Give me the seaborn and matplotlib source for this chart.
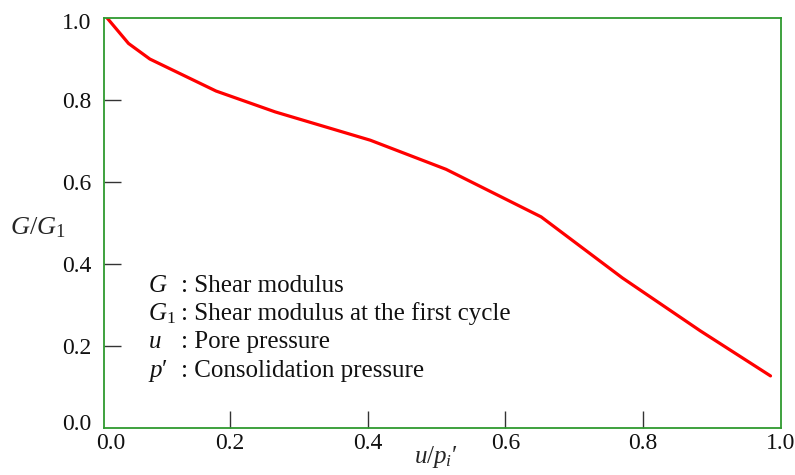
import matplotlib
matplotlib.use("Agg")
import matplotlib.pyplot as plt
import matplotlib.transforms as mtransforms
import seaborn as sns
import pandas as pd

# Degradation of shear modulus with pore pressure build-up
pore_ratio = [0.022, 0.053, 0.084, 0.180, 0.266, 0.404, 0.514, 0.652, 0.770, 0.883, 0.985]
modulus_ratio = [1.000, 0.938, 0.900, 0.822, 0.771, 0.702, 0.631, 0.515, 0.366, 0.237, 0.127]

x_ticks = [0.0167, 0.2, 0.4, 0.6, 0.8, 1.0]
x_tick_labels = ["0.0", "0.2", "0.4", "0.6", "0.8", "1.0"]
y_ticks = [0.0, 0.2, 0.4, 0.6, 0.8, 1.0]
y_tick_labels = ["0.0", "0.2", "0.4", "0.6", "0.8", "1.0"]

symbols = ["$G$", "$G_1$", "$u$", "$p$\u2032"]
meanings = [": Shear modulus", ": Shear modulus at the first cycle",
            ": Pore pressure", ": Consolidation pressure"]

sns.set_theme(style="white")
plt.rcParams["font.family"] = ["Liberation Serif", "DejaVu Serif"]
plt.rcParams["mathtext.fontset"] = "custom"
plt.rcParams["mathtext.rm"] = "Liberation Serif"
plt.rcParams["mathtext.it"] = "Liberation Serif:italic"

df = pd.DataFrame({"ratio": pore_ratio, "G": modulus_ratio})

fig = plt.figure(figsize=(7.95, 4.75), dpi=100)
ax = fig.add_axes([0.1302, 0.099, 0.852, 0.863])

sns.lineplot(data=df, x="ratio", y="G", ax=ax, color="#ff0000",
             linewidth=2.3, sort=False)

ax.set_xlim(x_ticks[0], 1.0)
ax.set_ylim(0.0, 1.0)

for side in ["left", "right", "top", "bottom"]:
    ax.spines[side].set_visible(True)
    ax.spines[side].set_color("#2f9a2f")
    ax.spines[side].set_linewidth(1.3)

ax.set_xticks(x_ticks)
ax.set_xticklabels(x_tick_labels)
ax.set_yticks(y_ticks)
ax.set_yticklabels(y_tick_labels)
ax.tick_params(axis="both", which="major", direction="in", length=12,
               width=1.0, color="#333333", labelsize=17, labelcolor="#111111",
               bottom=True, left=True)
ax.tick_params(axis="x", pad=3.5)
ax.tick_params(axis="y", pad=9)

# the end ticks sit on the frame, so hide their marks
xt = ax.xaxis.get_major_ticks()
yt = ax.yaxis.get_major_ticks()
for t in (xt[0], xt[-1], yt[0], yt[-1]):
    t.tick1line.set_visible(False)

# nudge the corner labels slightly off the frame corners
def nudge(label, dx_px, dy_px):
    off = mtransforms.ScaledTranslation(dx_px / 100, dy_px / 100, fig.dpi_scale_trans)
    label.set_transform(label.get_transform() + off)

fig.canvas.draw()
nudge(xt[0].label1, 7, 0)
nudge(yt[0].label1, 0, 6)
nudge(yt[-1].label1, 0, -3)

ax.set_xlabel("$u/p_i$\u2032", fontsize=18)
ax.xaxis.set_label_coords(0.49, -0.040)
ax.set_ylabel(r"$G/G_1$", fontsize=19, rotation=0, va="center", ha="center")
ax.yaxis.set_label_coords(-0.097, 0.488)

ys = [0.332, 0.263, 0.195, 0.124]
for sym, txt, yy in zip(symbols, meanings, ys):
    ax.text(0.0657, yy, sym, transform=ax.transAxes, fontsize=18,
            va="baseline", ha="left", color="#111111")
    ax.text(0.1145, yy, txt, transform=ax.transAxes, fontsize=18,
            va="baseline", ha="left", color="#111111")

ax.grid(False)
fig.savefig("out.png", dpi=100)
